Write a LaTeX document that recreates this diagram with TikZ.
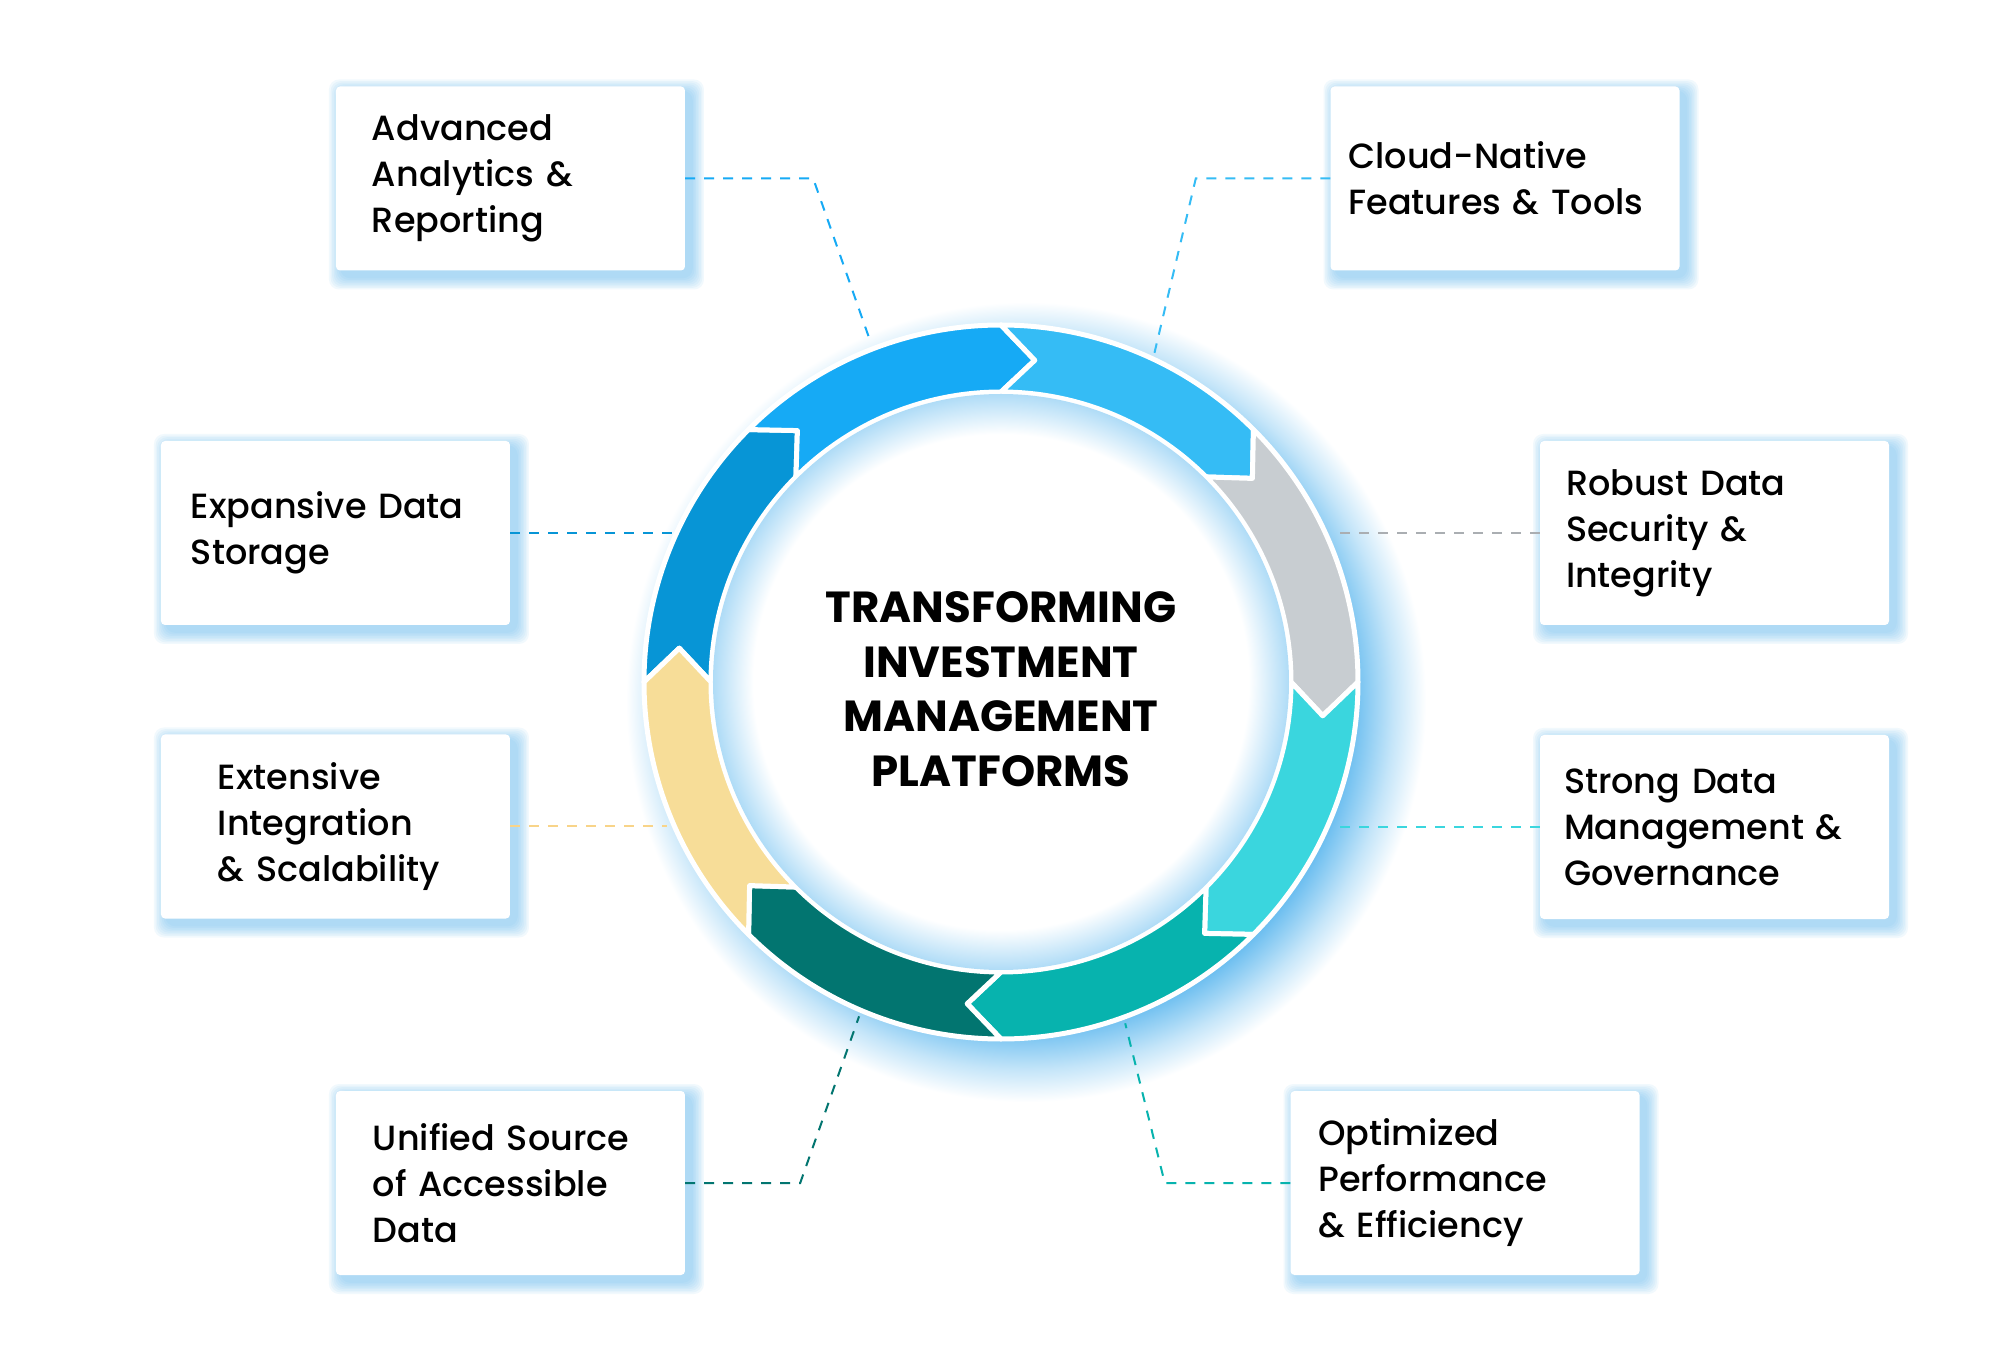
\documentclass[tikz,border=0pt]{standalone}
\usepackage{fontspec}
\setmainfont{Poppins}
\newfontfamily\cardfont{Poppins Medium}
\usetikzlibrary{backgrounds}

\definecolor{ringA}{HTML}{0795D6}
\definecolor{ringB}{HTML}{16AAF5}
\definecolor{ringC}{HTML}{35BCF5}
\definecolor{ringD}{HTML}{C8CDD1}
\definecolor{ringE}{HTML}{3AD6DE}
\definecolor{ringF}{HTML}{07B3AE}
\definecolor{ringG}{HTML}{027570}
\definecolor{ringH}{HTML}{F7DD98}
\definecolor{glowblue}{HTML}{6EBFF0}

\pgfdeclareradialshading{hubglow}{\pgfpoint{0bp}{0bp}}{%
  color(0bp)=(white); color(21.5bp)=(white); color(25bp)=(glowblue!55!white); color(50bp)=(glowblue!55!white)}
\pgfdeclareradialshading{ringglow}{\pgfpoint{0bp}{0bp}}{%
  color(0bp)=(glowblue); color(20.5bp)=(glowblue); color(23bp)=(glowblue!40!white); color(25bp)=(white); color(50bp)=(white)}

\tikzset{
  card/.style={fill=white, rounded corners=4pt, minimum width=349pt, minimum height=184pt,
    inner sep=0pt, align=left, font=\cardfont\fontsize{35}{46}\selectfont},
  link/.style={line width=2pt, dash pattern=on 10pt off 9pt}
}

\begin{document}
\begin{tikzpicture}[x=1pt, y=1pt]
\useasboundingbox (-1001,-680) rectangle (999,682);

% halo behind the ring
\shade[shading=ringglow] (25,-20) circle[radius=400];

% hub, only used as anchor for the links
\node[circle, minimum size=726pt, inner sep=0pt] (hub) at (0,0) {};

% the eight cards
\node[card, text width=277pt] (adv) at (-490.5,503.5) {Advanced\\Analytics~\&\\Reporting};
\node[card, text width=313pt] (cloud) at (504,503.5) {Cloud-Native\\Features~\&~Tools};
\node[card, text width=289pt] (store) at (-665.5,149) {Expansive~Data\\Storage};
\node[card, text width=297pt] (secure) at (713.5,149) {Robust~Data\\Security~\&\\Integrity};
\node[card, text width=235pt] (scale) at (-665.5,-144.5) {Extensive\\Integration\\\&~Scalability};
\node[card, text width=301pt] (govern) at (713.5,-145) {Strong~Data\\Management~\&\\Governance};
\node[card, text width=275pt] (unified) at (-490.5,-501) {Unified~Source\\of~Accessible\\Data};
\node[card, text width=293pt] (optim) at (464,-501) {Optimized\\Performance\\\&~Efficiency};

% dashed links, card to ring
\draw[link, ringB] (adv.east) -- ++(128,0) -- (hub.111);
\draw[link, ringC] (cloud.west) -- ++(-134.5,0) -- (hub.65.3);
\draw[link, ringA] (store.east) -- (store.east -| hub.155.8);
\draw[link, ringD!85!black] (secure.west) -- (secure.west -| hub.24.3);
\draw[link, ringH!90!orange] (scale.east) -- (scale.east -| hub.203.5);
\draw[link, ringE] (govern.west) -- (govern.west -| hub.336.4);
\draw[link, ringG] (unified.east) -- ++(115,0) -- (hub.247.6);
\draw[link, ringF] (optim.west) -- ++(-125.5,0) -- (hub.290.1);

% ring: eight arrow pieces, clockwise from 9 o'clock
\foreach \col [count=\k from 0] in {ringA,ringB,ringC,ringD,ringE,ringF,ringG,ringH} {
  \pgfmathsetmacro{\a}{180-45*\k}
  \pgfmathsetmacro{\b}{\a-45}
  \filldraw[fill=\col, draw=white, line width=5pt, line join=round]
    (\a:357) arc[start angle=\a, end angle=\b, radius=357]
    -- ({\b-6}:323.5) -- (\b:290)
    arc[start angle=\b, end angle=\a, radius=290]
    -- ({\a-6}:323.5) -- cycle;
}

% inner disc and title
\shade[shading=hubglow] (0,0) circle[radius=288];
\node[font=\bfseries\fontsize{43.5}{54.6}\selectfont, align=center] (title) at (0,-7)
  {TRANSFORMING\\INVESTMENT\\MANAGEMENT\\PLATFORMS};

% soft blue glow round the cards, mostly to the lower right
\begin{pgfonlayer}{background}
\fill[white] (-1001,-680) rectangle (999,682);
\foreach \n in {adv,cloud,store,secure,scale,govern,unified,optim} {
  \foreach \g in {1,...,8} {
    \fill[glowblue, opacity=0.09, rounded corners=10pt]
      ([shift={({6-1.6*\g},{-6-1.6*\g})}]\n.south west) rectangle ([shift={({6+1.6*\g},{-6+1.6*\g})}]\n.north east);
  }
}
\end{pgfonlayer}

\end{tikzpicture}
\end{document}
